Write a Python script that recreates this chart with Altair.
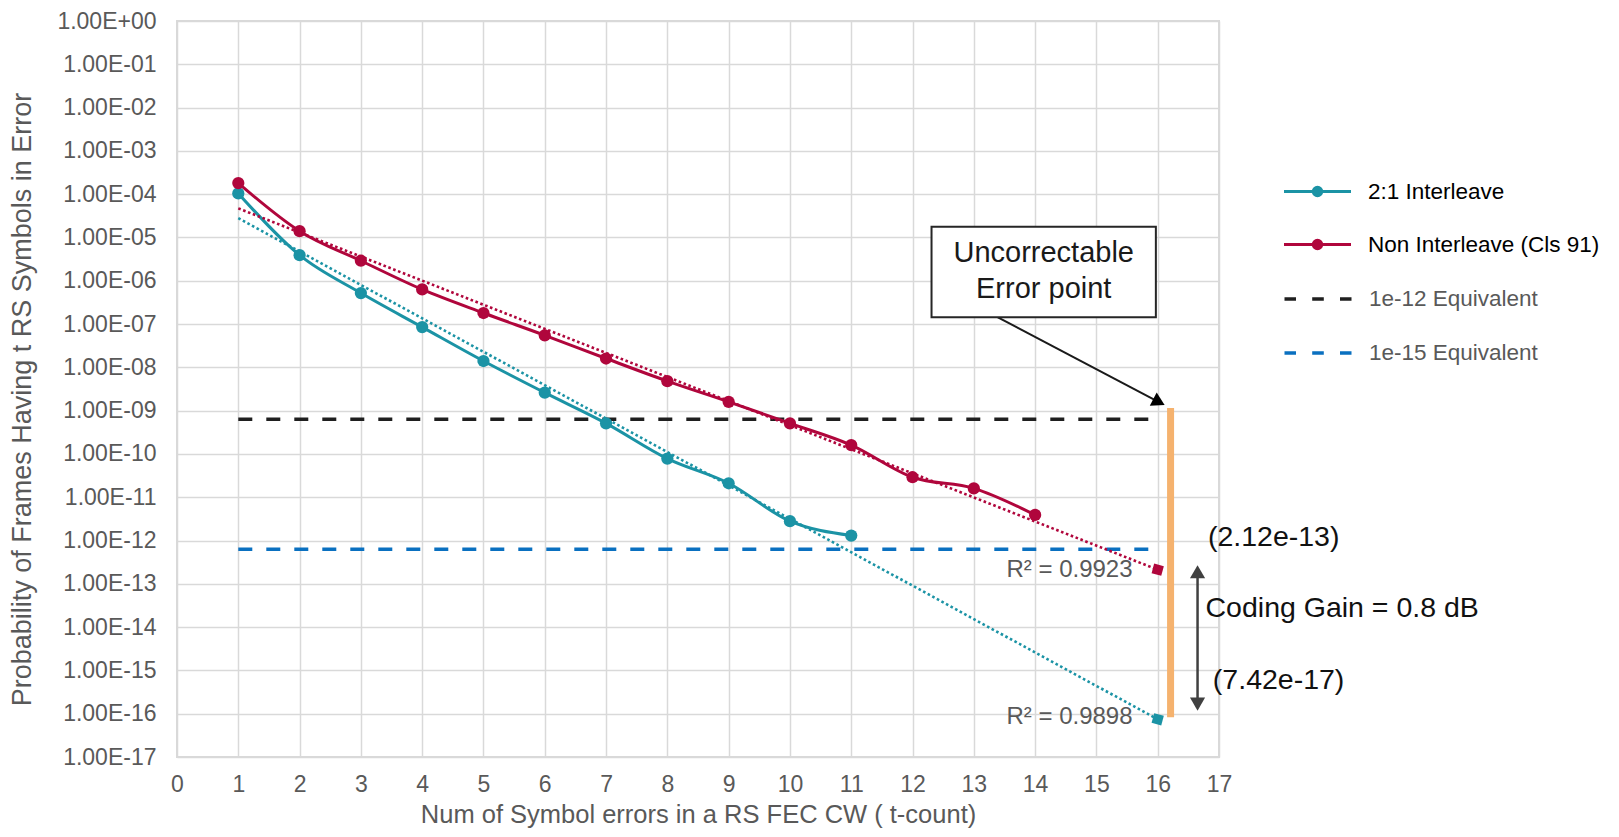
import altair as alt
import pandas as pd

FONT = "Liberation Sans"

# ---------------- data ----------------
series_names = ["2:1 Interleave", "Non Interleave (Cls 91)", "1e-12 Equivalent", "1e-15 Equivalent"]
series_colors = ["#1B93A5", "#B0063C", "#1F1F1F", "#0A70C0"]

interleave_t = [1, 2, 3, 4, 5, 6, 7, 8, 9, 10, 11]
interleave_p = [1.04e-4, 3.9e-6, 5.2e-7, 8.5e-8, 1.4e-8, 2.6e-9, 5.1e-10, 7.8e-11, 2.1e-11, 2.8e-12, 1.3e-12]

non_interleave_t = [1, 2, 3, 4, 5, 6, 7, 8, 9, 10, 11, 12, 13, 14]
non_interleave_p = [1.8e-4, 1.4e-5, 2.9e-6, 6.3e-7, 1.8e-7, 5.5e-8, 1.6e-8, 4.8e-9, 1.6e-9, 5.1e-10,
                    1.6e-10, 2.9e-11, 1.6e-11, 3.9e-12]

# exponential trend lines (start at t=1, end at t=16)
trend_t = [1, 16]
interleave_trend = [2.8e-5, 7.42e-17]
non_interleave_trend = [4.7e-5, 2.12e-13]
r_squared = ["R² = 0.9898", "R² = 0.9923"]

equiv_levels = [6.3e-10, 6.3e-13]
equiv_t = [1, 15.86]

x_ticks = [0, 1, 2, 3, 4, 5, 6, 7, 8, 9, 10, 11, 12, 13, 14, 15, 16, 17]
y_ticks = [1e0, 1e-1, 1e-2, 1e-3, 1e-4, 1e-5, 1e-6, 1e-7, 1e-8, 1e-9, 1e-10,
           1e-11, 1e-12, 1e-13, 1e-14, 1e-15, 1e-16, 1e-17]

gain_labels = ["(2.12e-13)", "Coding Gain = 0.8 dB", "(7.42e-17)"]
box_lines = ["Uncorrectable", "Error point"]

# ---------------- tables ----------------
df_main = pd.DataFrame({
    "series": [series_names[0]] * len(interleave_t) + [series_names[1]] * len(non_interleave_t),
    "t": interleave_t + non_interleave_t,
    "p": interleave_p + non_interleave_p,
})
df_trend = pd.DataFrame({
    "series": [series_names[0]] * 2 + [series_names[1]] * 2,
    "t": trend_t + trend_t,
    "p": interleave_trend + non_interleave_trend,
})
df_trend_end = pd.DataFrame({
    "series": series_names[:2],
    "t": [trend_t[1], trend_t[1]],
    "p": [interleave_trend[1], non_interleave_trend[1]],
})
df_equiv = pd.DataFrame({
    "series": series_names[2:],
    "t0": [equiv_t[0]] * 2,
    "t1": [equiv_t[1]] * 2,
    "p": equiv_levels,
})

# annotation placement (data coordinates)
df_r2 = pd.DataFrame({"t": [15.59, 15.59], "p": [8.3e-17, 2.08e-13], "label": r_squared})
df_bar = pd.DataFrame({"t": [16.21], "p0": [1.15e-9], "p1": [8.3e-17]})
df_box = pd.DataFrame({"t0": [12.31], "t1": [15.97], "p0": [1.78e-5], "p1": [1.43e-7]})
df_box_text = pd.DataFrame({"t": [14.14, 14.14], "p": [4.3e-6, 6.3e-7], "label": box_lines})
df_arrow = pd.DataFrame({"t0": [13.37], "t1": [16.02], "p0": [1.48e-7], "p1": [1.58e-9]})
df_arrow_head = pd.DataFrame({"t": [16.02], "p": [1.58e-9]})
df_gain_arrow = pd.DataFrame({"t": [16.65], "p0": [1.9e-13], "p1": [1.66e-16]})
df_gain_heads = pd.DataFrame({"t": [16.65, 16.65], "p": [1.9e-13, 1.66e-16],
                              "shape": ["triangle-up", "triangle-down"]})
df_gain_text = pd.DataFrame({"t": [16.82, 16.78, 16.90], "p": [1.23e-12, 2.75e-14, 6.0e-16],
                             "label": gain_labels})

# ---------------- scales / axes ----------------
xscale = alt.Scale(domain=[0, 17], nice=False, zero=False)
yscale = alt.Scale(type="log", domain=[1e-17, 1], nice=False)

xaxis = alt.Axis(
    values=x_ticks, title="Num of Symbol errors in a RS FEC CW ( t-count)",
    grid=True, ticks=False, domain=False, labelFlush=False, labelOverlap=False,
    labelFont=FONT, labelFontSize=23, labelColor="#595959", labelPadding=16,
    titleFont=FONT, titleFontSize=25.5, titleColor="#595959", titleFontWeight="normal",
    titleY=57, titleBaseline="middle",
    gridColor="#d9d9d9", gridWidth=1.5,
)
ylabel_expr = ("'1.00E' + (round(log(datum.value)/LN10) >= 0 ? '+' : '-') + "
               "(abs(round(log(datum.value)/LN10)) < 10 ? '0' : '') + abs(round(log(datum.value)/LN10))")
yaxis = alt.Axis(
    values=y_ticks, labelExpr=ylabel_expr, title="Probability of Frames Having t RS Symbols in Error",
    grid=True, ticks=False, domain=False, labelFlush=False, labelOverlap=False,
    labelFont=FONT, labelFontSize=23, labelColor="#595959", labelPadding=21,
    titleFont=FONT, titleFontSize=27, titleColor="#595959", titleFontWeight="normal",
    titleAngle=270, titleX=-155, titleY=378, titleAlign="center", titleBaseline="middle",
    gridColor="#d9d9d9", gridWidth=1.5,
)


def X(f):
    return alt.X(f, type="quantitative", scale=xscale, axis=xaxis)


def Y(f):
    return alt.Y(f, type="quantitative", scale=yscale, axis=yaxis)


color_scale = alt.Scale(domain=series_names[:2], range=series_colors[:2])
stroke_scale = alt.Scale(domain=series_names[2:], range=series_colors[2:])

line_dot = ("M-3.35,0H3.35M-0.15,0A0.15,0.15 0 1,1 0.15,0A0.15,0.15 0 1,1 -0.15,0"
            "M-0.42,0A0.42,0.42 0 1,1 0.42,0A0.42,0.42 0 1,1 -0.42,0")
dashed = "M-3.35,0H-2.2M-0.58,0H0.58M2.2,0H3.35"

legend_main = alt.Legend(
    title=None, orient="none", legendX=1129, legendY=159, padding=0,
    symbolType=line_dot, symbolSize=400, symbolStrokeWidth=3, symbolOpacity=1,
    labelFont=FONT, labelFontSize=22.5, labelOffset=39, rowPadding=30, labelLimit=500,
    labelColor="#000000",
)
legend_equiv = alt.Legend(
    title=None, orient="none", legendX=1129, legendY=266, padding=0,
    symbolType=dashed, symbolSize=400, symbolStrokeWidth=3.5, symbolOpacity=1,
    labelFont=FONT, labelFontSize=22.5, labelOffset=39, rowPadding=30, labelLimit=500,
    labelColor="#595959",
)

# ---------------- layers ----------------
base_main = alt.Chart(df_main)

equiv = alt.Chart(df_equiv).mark_rule(strokeWidth=3.5, strokeDash=[14, 14]).encode(
    x=X("t0"), x2="t1", y=Y("p"),
    stroke=alt.Stroke("series:N", scale=stroke_scale, legend=legend_equiv),
)

lines = base_main.mark_line(strokeWidth=3, interpolate="monotone").encode(
    x=X("t"), y=Y("p"),
    color=alt.Color("series:N", scale=color_scale, legend=legend_main),
)

points = base_main.mark_point(filled=True, size=150, opacity=1).encode(
    x=X("t"), y=Y("p"),
    color=alt.Color("series:N", scale=color_scale, legend=legend_main),
)

trend = alt.Chart(df_trend).mark_line(strokeWidth=2.6, strokeDash=[2.6, 2.6]).encode(
    x=X("t"), y=Y("p"),
    color=alt.Color("series:N", scale=color_scale, legend=legend_main),
)

trend_end = alt.Chart(df_trend_end).mark_point(filled=True, shape="square", size=100, angle=15, opacity=1).encode(
    x=X("t"), y=Y("p"),
    color=alt.Color("series:N", scale=color_scale, legend=legend_main),
)

r2 = alt.Chart(df_r2).mark_text(font=FONT, fontSize=24, color="#595959", align="right", baseline="middle").encode(
    x=X("t"), y=Y("p"), text="label:N",
)

bar = alt.Chart(df_bar).mark_rule(strokeWidth=7, color="#F5B26E").encode(
    x=X("t"), y=Y("p0"), y2="p1",
)

arrow = alt.Chart(df_arrow).mark_rule(strokeWidth=2, color="#1a1a1a").encode(
    x=X("t0"), x2="t1", y=Y("p0"), y2="p1",
)
arrow_head = alt.Chart(df_arrow_head).mark_point(shape="triangle-right", filled=True, size=220, angle=27.6,
                                                 color="#000000", opacity=1).encode(
    x=X("t"), y=Y("p"),
)

box = alt.Chart(df_box).mark_rect(fill="white", stroke="#262626", strokeWidth=2).encode(
    x=X("t0"), x2="t1", y=Y("p0"), y2="p1",
)
box_text = alt.Chart(df_box_text).mark_text(font=FONT, fontSize=29, color="#1a1a1a", align="center",
                                            baseline="middle").encode(
    x=X("t"), y=Y("p"), text="label:N",
)

gain_arrow = alt.Chart(df_gain_arrow).mark_rule(strokeWidth=2.5, color="#404040").encode(
    x=X("t"), y=Y("p0"), y2="p1",
)
gain_heads = alt.Chart(df_gain_heads).mark_point(filled=True, size=230, color="#404040", opacity=1).encode(
    x=X("t"), y=Y("p"),
    shape=alt.Shape("shape:N", scale=None, legend=None),
)
gain_text = alt.Chart(df_gain_text).mark_text(font=FONT, fontSize=28.5, color="#111111", align="left",
                                              baseline="middle").encode(
    x=X("t"), y=Y("p"), text="label:N",
)

chart = alt.layer(
    equiv, lines, trend, points, trend_end, r2, bar,
    arrow, arrow_head, box, box_text, gain_arrow, gain_heads, gain_text,
).properties(
    width=1042, height=736,
    autosize=alt.AutoSizeParams(type="none"),
    padding={"left": 169, "top": 13, "right": 392, "bottom": 72},
).configure_view(
    stroke="#d9d9d9", strokeWidth=2,
)

chart.save("out.html", embed_options={"renderer": "svg", "actions": False})
